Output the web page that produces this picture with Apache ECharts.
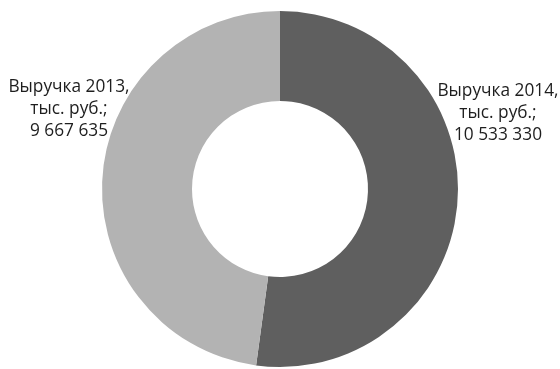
<!DOCTYPE html>
<html>
<head>
<meta charset="utf-8">
<script src="https://cdn.jsdelivr.net/npm/echarts@6/dist/echarts.min.js"></script>
<style>
  html, body { margin: 0; padding: 0; background: #fff; }
  #chart { width: 560px; height: 369px; }
</style>
</head>
<body>
<div id="chart"></div>
<script>
// Revenue by year, thousand rubles
const categories = ['Выручка 2014', 'Выручка 2013'];
const values = [10533330, 9667635];
const colors = ['#5f5f5f', '#b3b3b3'];
// label anchor points (centre of each text block)
const labelAnchors = [[498, 113], [69, 109]];

function fmt(n) {
  return String(n).replace(/\B(?=(\d{3})+(?!\d))/g, ' ');
}

const chart = echarts.init(document.getElementById('chart'), null, { renderer: 'canvas' });
chart.setOption({
  animation: false,
  backgroundColor: '#ffffff',
  series: [{
    type: 'pie',
    center: [280, 189],
    radius: [88, 178],
    startAngle: 90,
    clockwise: true,
    avoidLabelOverlap: false,
    data: categories.map((name, i) => ({
      name,
      value: values[i],
      itemStyle: { color: colors[i] }
    })),
    itemStyle: { borderWidth: 0 },
    label: {
      show: true,
      position: 'outside',
      formatter: p => p.name + ',\nтыс. руб.;\n' + fmt(p.value),
      fontFamily: 'Open Sans',
      fontSize: 17.3,
      lineHeight: 22,
      color: '#1e1e1e',
      align: 'center'
    },
    labelLine: { show: false },
    labelLayout: p => ({
      x: labelAnchors[p.dataIndex][0],
      y: labelAnchors[p.dataIndex][1],
      align: 'center',
      verticalAlign: 'middle'
    }),
    emphasis: { disabled: true }
  }]
});
</script>
</body>
</html>
